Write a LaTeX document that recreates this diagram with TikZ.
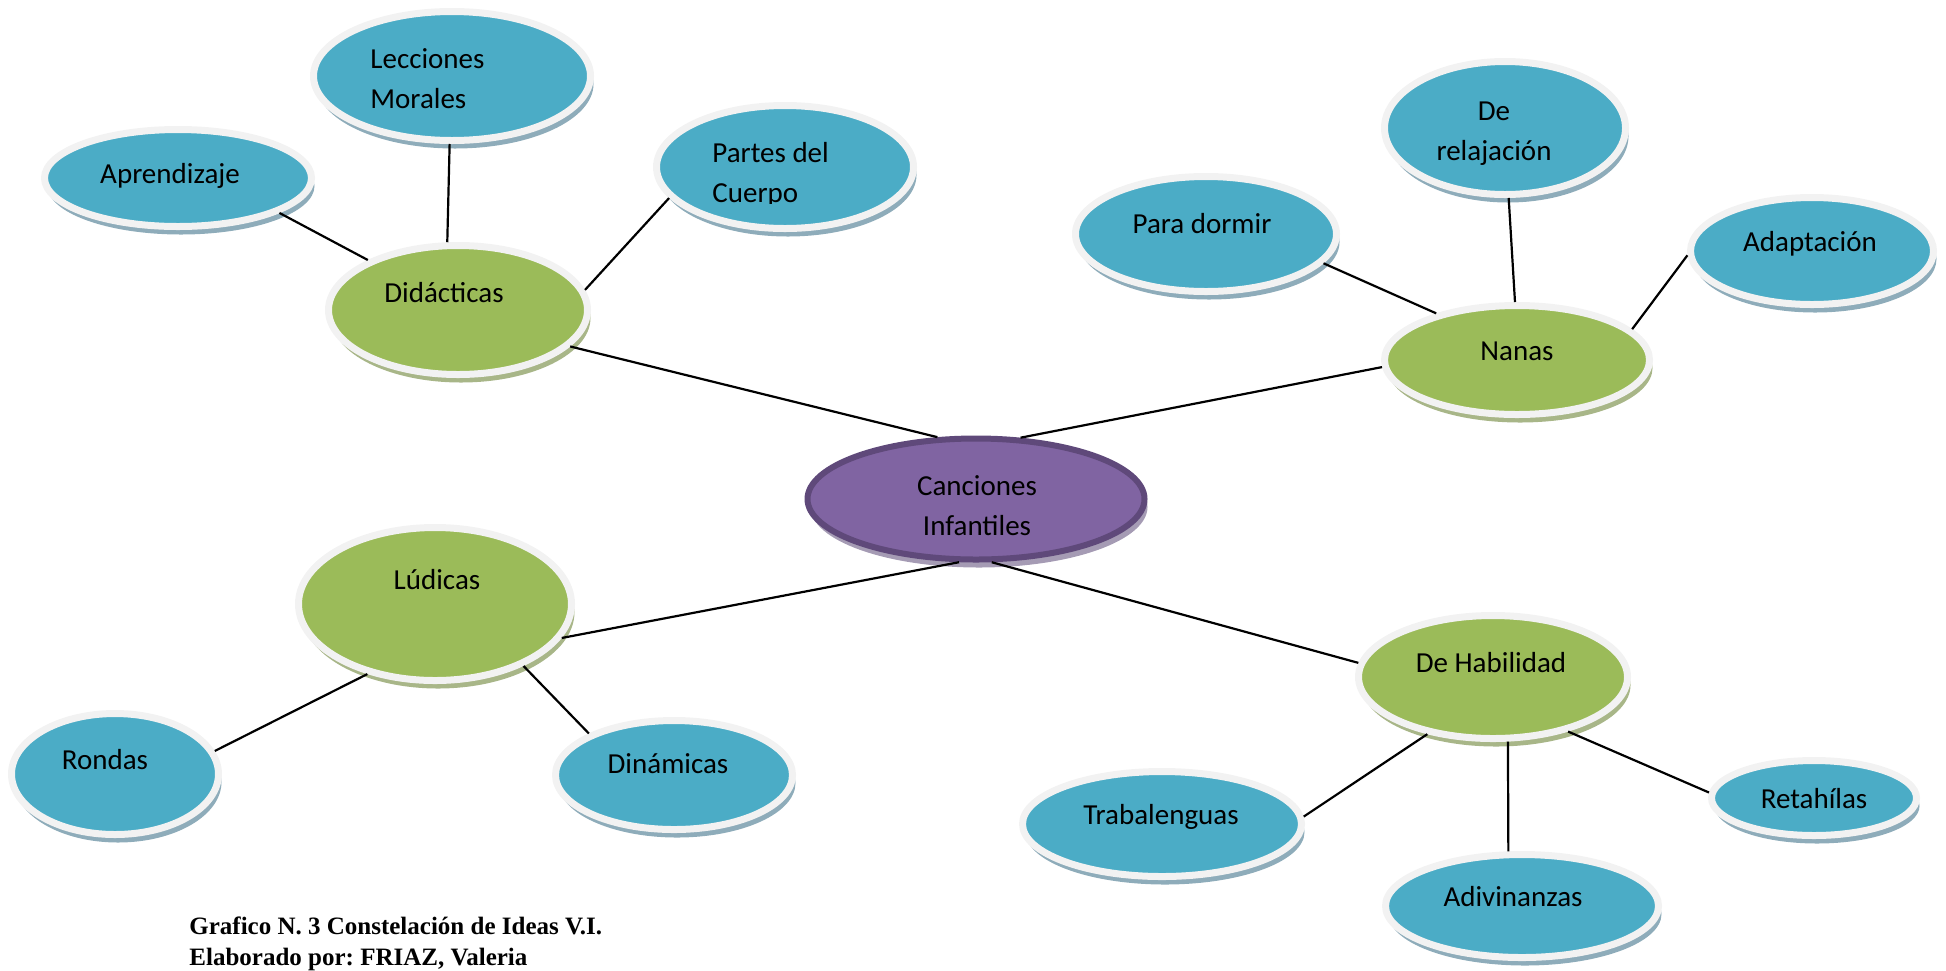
\documentclass[tikz,border=0pt]{standalone}
\usepackage{fontspec}
\setmainfont{Carlito}
\newfontfamily\capfont{Liberation Serif}
\usetikzlibrary{shapes.geometric}
\usetikzlibrary{shadows}
\frenchspacing

\definecolor{bluefill}{RGB}{75,172,198}
\definecolor{blueshade}{RGB}{142,172,186}
\definecolor{greenfill}{RGB}{155,187,89}
\definecolor{greenshade}{RGB}{168,182,136}
\definecolor{purplefill}{RGB}{128,100,162}
\definecolor{purpleedge}{RGB}{95,73,122}
\definecolor{purpleshade}{RGB}{165,155,180}
\definecolor{rimgray}{RGB}{242,242,242}

\tikzset{
  bubble/.style={ellipse, inner sep=0pt, line width=3.5pt, draw=rimgray},
  blue bubble/.style={bubble, fill=bluefill, drop shadow={shadow xshift=1.5pt, shadow yshift=-4pt, fill=blueshade, opacity=1}},
  green bubble/.style={bubble, fill=greenfill, drop shadow={shadow xshift=1.5pt, shadow yshift=-4pt, fill=greenshade, opacity=1}},
  main bubble/.style={bubble, draw=purpleedge, line width=3pt, fill=purplefill, drop shadow={shadow xshift=1.5pt, shadow yshift=-4pt, fill=purpleshade, opacity=1}},
  word/.style={font=\fontsize{14.5}{20}\selectfont, inner sep=0pt, anchor=base},
  link/.style={line width=1.1pt},
}

\begin{document}
\begin{tikzpicture}[x=0.5pt,y=0.5pt,yscale=-1,xscale=1]
\useasboundingbox (0,0) rectangle (1946,970);

%Shape: Ellipse (center)
\node [main bubble, minimum width=168.5pt, minimum height=60.5pt] (canciones) at (976,499) {};
%Shape: Ellipse (second level)
\node [green bubble, minimum width=129.5pt, minimum height=64.5pt] (didacticas) at (458,310) {};
\node [green bubble, minimum width=132.5pt, minimum height=54.5pt] (nanas) at (1517,360) {};
\node [green bubble, minimum width=136.5pt, minimum height=76.5pt] (ludicas) at (435,604) {};
\node [green bubble, minimum width=134.5pt, minimum height=61.5pt] (habilidad) at (1493,677) {};
%Shape: Ellipse (third level)
\node [blue bubble, minimum width=138.5pt, minimum height=64.5pt] (lecciones) at (452,76) {};
\node [blue bubble, minimum width=133.5pt, minimum height=48.5pt] (aprendizaje) at (178,178) {};
\node [blue bubble, minimum width=128.5pt, minimum height=61.5pt] (partes) at (785,167) {};
\node [blue bubble, minimum width=130.5pt, minimum height=57.5pt] (dormir) at (1206,234) {};
\node [blue bubble, minimum width=120.5pt, minimum height=66.5pt] (relajacion) at (1505,128) {};
\node [blue bubble, minimum width=121.5pt, minimum height=53.5pt] (adaptacion) at (1812,251) {};
\node [blue bubble, minimum width=103.5pt, minimum height=60.5pt] (rondas) at (115,774) {};
\node [blue bubble, minimum width=118.5pt, minimum height=54.5pt] (dinamicas) at (674,775) {};
\node [blue bubble, minimum width=139.5pt, minimum height=52.5pt] (trabalenguas) at (1162,824) {};
\node [blue bubble, minimum width=136.5pt, minimum height=51.5pt] (adivinanzas) at (1522,906) {};
\node [blue bubble, minimum width=102.5pt, minimum height=37.5pt] (retahilas) at (1814,798) {};

%Straight Lines
\draw [link] (canciones.122) -- (didacticas.-18.8);
\draw [link] (canciones.54.6) -- (nanas.183);
\draw [link] (canciones.-105.7) -- (ludicas.-15.8);
\draw [link] (canciones.-76.9) -- (habilidad.174.5);
\draw [link] (didacticas.151) -- (aprendizaje.-19.5);
\draw [link] (didacticas.99) -- (lecciones.-92);
\draw [link] (didacticas.9.75) -- (partes.195.6);
\draw [link] (nanas.150) -- (dormir.-14);
\draw [link] (nanas.92.7) -- (relajacion.-87.6);
\draw [link] (nanas.15.3) -- (adaptacion.182.8);
\draw [link] (ludicas.-134.6) -- (rondas.13.3);
\draw [link] (ludicas.-35.7) -- (dinamicas.154.4);
\draw [link] (habilidad.-139.2) -- (trabalenguas.3.2);
\draw [link] (habilidad.-77.6) -- (adivinanzas.104.3);
\draw [link] (habilidad.-36.3) -- (retahilas.177.8);

% Text Node
\node [word, align=center] (canciones-txt) at (977,535) {Canciones\\Infantiles};
\node [word] (didacticas-txt) at (444,302) {Didácticas};
\node [word] (nanas-txt) at (1517,360) {Nanas};
\node [word] (ludicas-txt) at (437,589) {Lúdicas};
\node [word] (habilidad-txt) at (1491,672) {De Habilidad};
\node [word, align=left, anchor=base west] (lecciones-txt) at (370,108) {Lecciones\\Morales};
\node [word] (aprendizaje-txt) at (170,183) {Aprendizaje};
\begin{scope}
\clip (690,100) rectangle (900,203);
\node [word, align=left, anchor=base west] (partes-txt) at (712,202) {Partes del\\Cuerpo};
\end{scope}
\node [word] (dormir-txt) at (1202,233) {Para dormir};
\node [word, align=center] (relajacion-txt) at (1494,160) {De\\relajación};
\node [word] (adaptacion-txt) at (1810,251) {Adaptación};
\node [word] (rondas-txt) at (105,769) {Rondas};
\node [word] (dinamicas-txt) at (668,773) {Dinámicas};
\node [word] (trabalenguas-txt) at (1161,824) {Trabalenguas};
\node [word] (adivinanzas-txt) at (1513,906) {Adivinanzas};
\node [word] (retahilas-txt) at (1814,808) {Retahílas};

% Caption
\node [font=\capfont\bfseries\fontsize{12.5}{15.2}\selectfont, align=left, anchor=base west, inner sep=0pt] (caption) at (189,965) {Grafico N. 3 Constelación de Ideas V.I.\\Elaborado por: FRIAZ, Valeria};

\end{tikzpicture}
\end{document}
